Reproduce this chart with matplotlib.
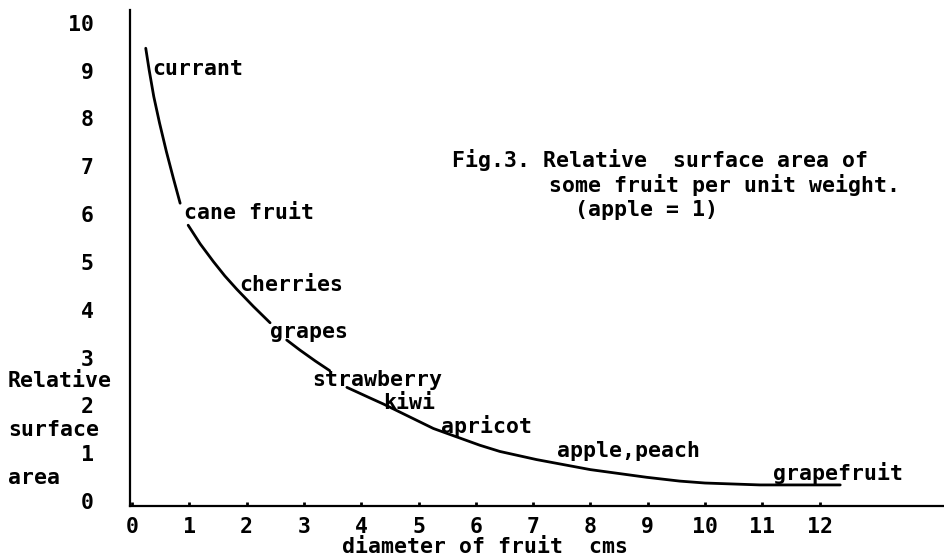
import numpy as np
import matplotlib
matplotlib.use("Agg")
import matplotlib.pyplot as plt
from matplotlib.transforms import ScaledTranslation

# ---- data ----
nan = np.nan
curve_x = [0.24, 0.30, 0.38, 0.48, 0.60, 0.72, 0.84, nan,
           0.98, 1.19, 1.42, 1.62, 1.83, 2.12, 2.41, nan,
           2.70, 2.93, 3.20, 3.45, nan,
           3.75, 4.15, 4.39, 5.26, 6.07, 6.42, 7.06, 8.00, 8.98, 9.56, 10.0, 10.96, 12.36]
curve_y = [9.56, 9.10, 8.55, 8.00, 7.40, 6.85, 6.32, nan,
           5.86, 5.47, 5.10, 4.80, 4.52, 4.16, 3.82, nan,
           3.46, 3.25, 3.02, 2.82, nan,
           2.47, 2.25, 2.12, 1.61, 1.26, 1.13, 0.96, 0.75, 0.59, 0.51, 0.47, 0.43, 0.43]

fruit_names = ["currant", "cane fruit", "cherries", "grapes", "strawberry",
               "kiwi", "apricot", "apple,peach", "grapefruit"]
label_x = [0.36, 0.90, 1.88, 2.40, 3.15, 4.39, 5.40, 7.41, 11.18]
label_y = [9.00, 5.99, 4.49, 3.50, 2.50, 2.01, 1.52, 1.02, 0.53]

x_ticks = list(range(0, 13))
y_ticks = list(range(0, 11))

title_lines = ["Fig.3. Relative  surface area of",
               "some fruit per unit weight.",
               "(apple = 1)"]
x_label = "diameter of fruit  cms"
y_label_words = ["Relative", "surface", "area"]

# ---- figure ----
W, H = 944, 557
fig = plt.figure(figsize=(W / 100, H / 100), dpi=100)
fig.patch.set_facecolor("white")

ax_left_px, ax_bottom_px, ax_top_px = 130, 505.5, 10
ax = fig.add_axes([ax_left_px / W, (H - ax_bottom_px) / H,
                   (W - ax_left_px) / W, (ax_bottom_px - ax_top_px) / H])
ax.set_facecolor("white")

px_per_x = 57.3
px_per_y = 47.83
x0_px = 132
ax.set_xlim(-(x0_px - ax_left_px) / px_per_x, (W - x0_px) / px_per_x)
ax.set_ylim(0, (ax_bottom_px - ax_top_px) / px_per_y)

FONT = "DejaVu Sans Mono"
FS = 15.5
WEIGHT = "bold"

for s in ["top", "right"]:
    ax.spines[s].set_visible(False)
for s in ["left", "bottom"]:
    ax.spines[s].set_linewidth(1.6)
    ax.spines[s].set_color("black")

ax.plot(curve_x, curve_y, color="black", lw=2.0, solid_capstyle="round",
        solid_joinstyle="round")

for name, lx, ly in zip(fruit_names, label_x, label_y):
    ax.text(lx, ly, name, ha="left", va="baseline", family=FONT,
            fontsize=FS, fontweight=WEIGHT, color="black")

# ticks
ax.set_xticks(x_ticks)
ax.set_xticklabels([str(t) for t in x_ticks], family=FONT, fontsize=FS,
                   fontweight=WEIGHT)
ax.tick_params(axis="x", direction="in", length=3, width=2, pad=8, colors="black")
ax.set_yticks(y_ticks)
ax.set_yticklabels([str(t) for t in y_ticks], family=FONT, fontsize=FS,
                   fontweight=WEIGHT)
ax.tick_params(axis="y", length=0, pad=26)
off = ScaledTranslation(0, 4.5 / 100, fig.dpi_scale_trans)
for lab in ax.get_yticklabels():
    lab.set_transform(lab.get_transform() + off)

# title lines (positions read in pixels, converted to data units)
title_px = [(452, 166.7), (549, 191.5), (575, 215.5)]
for line, (tx, ty) in zip(title_lines, title_px):
    ax.text((tx - x0_px) / px_per_x, (ax_bottom_px - ty) / px_per_y, line,
            ha="left", va="baseline", family=FONT, fontsize=FS,
            fontweight=WEIGHT, color="black")

# axis labels
fig.text(485 / W, (H - 553) / H, x_label, ha="center", va="baseline",
         family=FONT, fontsize=FS, fontweight=WEIGHT)
for word, by in zip(y_label_words, [387, 436, 484]):
    fig.text(8 / W, (H - by) / H, word, ha="left", va="baseline",
             family=FONT, fontsize=FS, fontweight=WEIGHT)

fig.savefig("out.png", dpi=100, facecolor="white")
